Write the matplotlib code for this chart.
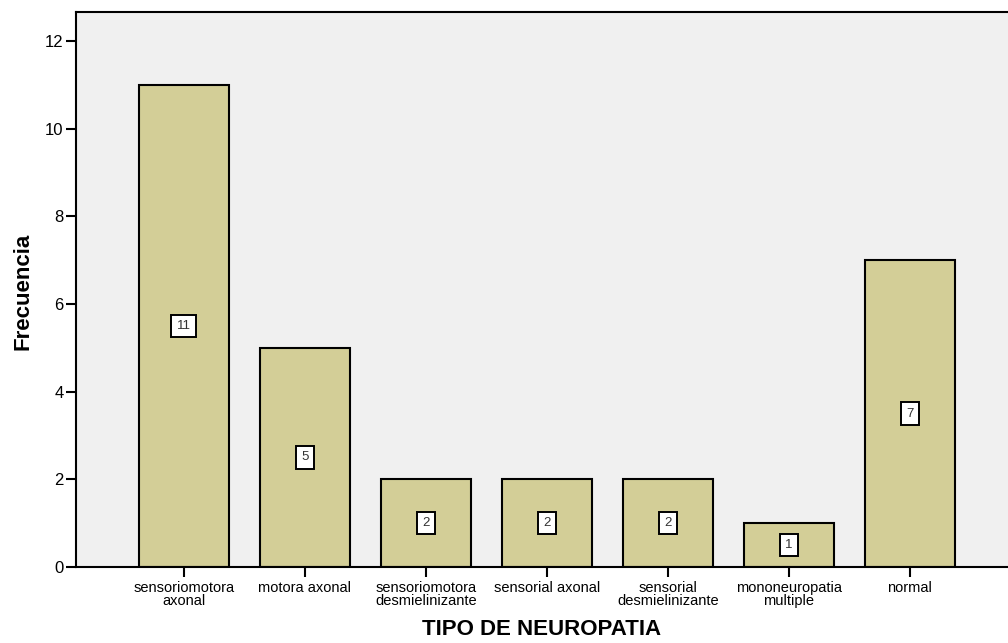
import numpy as np
from matplotlib import pyplot as plt

plt.rcParams['font.family'] = ['Liberation Sans', 'DejaVu Sans']

categorias = ['sensoriomotora\naxonal', 'motora axonal', 'sensoriomotora\ndesmielinizante',
              'sensorial axonal', 'sensorial\ndesmielinizante', 'mononeuropatia\nmultiple', 'normal']
frecuencias = [11, 5, 2, 2, 2, 1, 7]

fig = plt.figure(figsize=(10.08, 6.43), dpi=100)
ax = fig.add_axes([0.0754, 0.1182, 0.9246, 0.8631])
ax.set_facecolor('#F0F0F0')

ind = np.arange(len(categorias))
ax.bar(ind, frecuencias, 0.745, color='#D3CE97', edgecolor='black', linewidth=1.5, zorder=2)

for x, v in zip(ind, frecuencias):
    ax.text(x, v / 2.0, str(v), ha='center', va='center', fontsize=9.5, color='#333333',
            bbox=dict(boxstyle='square,pad=0.4', facecolor='white', edgecolor='black', linewidth=1.4),
            zorder=3)

ax.set_xlim(-0.89, 6.81)
ax.set_ylim(0, 12.66)
ax.set_yticks([0, 2, 4, 6, 8, 10, 12])
ax.set_xticks(ind)
ax.set_xticklabels(categorias, fontsize=10.5, linespacing=0.9)
ax.tick_params(axis='y', labelsize=12, length=7, width=1.5, direction='out', pad=2)
ax.tick_params(axis='x', length=7, width=1.5, direction='out', pad=3)

for s in ['left', 'bottom', 'top']:
    ax.spines[s].set_linewidth(1.5)
ax.spines['right'].set_visible(False)

ax.set_ylabel('Frecuencia', fontsize=16, fontweight='bold', va='center')
ax.yaxis.set_label_coords(-0.057, 0.497)
ax.set_xlabel('TIPO DE NEUROPATIA', fontsize=16, fontweight='bold', va='center')
ax.xaxis.set_label_coords(0.5, -0.113)

plt.savefig('out.png', dpi=100)
